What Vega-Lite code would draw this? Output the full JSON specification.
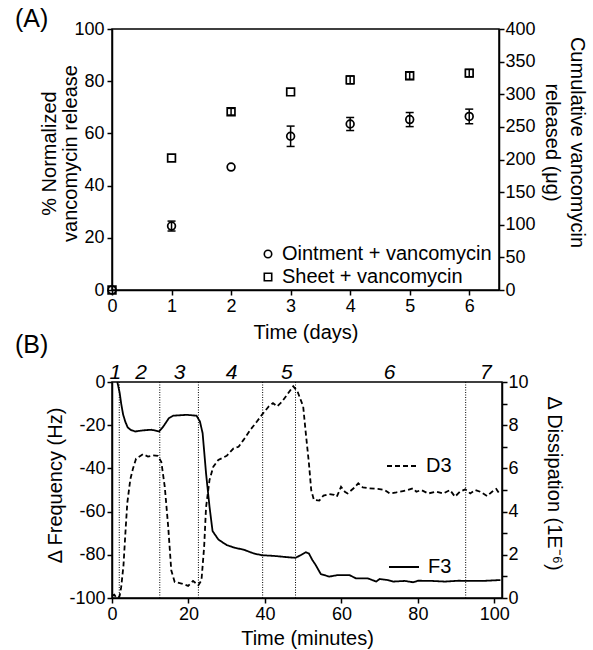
{
  "$schema": "https://vega.github.io/schema/vega-lite/v6.json",
  "padding": {"left": 14, "top": 6, "right": 0, "bottom": 0},
  "columns": 1,
  "spacing": -11,
  "config": {
    "font": "Liberation Sans",
    "view": {"stroke": "black", "strokeWidth": 1.5},
    "axis": {
      "grid": false, "domainColor": "black", "tickColor": "black", "labelColor": "black", "titleColor": "black",
      "domainWidth": 1.5, "tickWidth": 1.5, "tickSize": 5, "labelFontSize": 18, "titleFontSize": 20,
      "titleFontWeight": "normal", "labelPadding": 2, "labelFlush": false, "labelOverlap": false
    },
    "legend": {"labelFontSize": 20, "labelColor": "black", "labelLimit": 0},
    "title": {"fontSize": 25, "fontWeight": "normal", "color": "black"}
  },
  "concat": [
    {
      "width": 387,
      "height": 261,
      "title": {"text": "(A)", "anchor": "start", "frame": "group", "dx": -97, "offset": -32, "baseline": "alphabetic"},
      "data": {"values": [
        {"series": "Ointment + vancomycin", "day": 0, "pct": 0},
        {"series": "Ointment + vancomycin", "day": 1, "pct": 24.5, "lo": 22.6, "hi": 26.4},
        {"series": "Ointment + vancomycin", "day": 2, "pct": 47.1},
        {"series": "Ointment + vancomycin", "day": 3, "pct": 58.9, "lo": 55.0, "hi": 62.8},
        {"series": "Ointment + vancomycin", "day": 4, "pct": 63.6, "lo": 61.1, "hi": 66.1},
        {"series": "Ointment + vancomycin", "day": 5, "pct": 65.3, "lo": 62.6, "hi": 68.0},
        {"series": "Ointment + vancomycin", "day": 6, "pct": 66.5, "lo": 63.7, "hi": 69.3},
        {"series": "Sheet + vancomycin", "day": 0, "pct": 0},
        {"series": "Sheet + vancomycin", "day": 1, "pct": 50.6},
        {"series": "Sheet + vancomycin", "day": 2, "pct": 68.3, "lo": 67.0, "hi": 69.6},
        {"series": "Sheet + vancomycin", "day": 3, "pct": 75.9},
        {"series": "Sheet + vancomycin", "day": 4, "pct": 80.5, "lo": 79.0, "hi": 82.0},
        {"series": "Sheet + vancomycin", "day": 5, "pct": 82.1, "lo": 80.7, "hi": 83.5},
        {"series": "Sheet + vancomycin", "day": 6, "pct": 83.1, "lo": 81.7, "hi": 84.5}
      ]},
      "layer": [
        {
          "transform": [{"filter": "isValid(datum.lo)"}],
          "mark": {"type": "rule", "strokeWidth": 1.5, "color": "black"},
          "encoding": {
            "x": {"field": "day", "type": "quantitative", "scale": {"domain": [0, 6.5], "nice": false}},
            "y": {"field": "lo", "type": "quantitative", "scale": {"domain": [0, 100], "nice": false},
              "axis": {"orient": "right", "values": [0, 12.5, 25, 37.5, 50, 62.5, 75, 87.5, 100],
                "labelExpr": "'' + datum.value * 4", "title": ["Cumulative vancomycin", "released (μg)"],
                "titleAngle": 90, "titleLineHeight": 25, "titlePadding": 6, "labelPadding": 1, "titleY": 113}},
            "y2": {"field": "hi"}
          }
        },
        {
          "transform": [{"filter": "isValid(datum.lo)"}],
          "mark": {"type": "point", "shape": "M-1,0H1", "size": 64, "strokeWidth": 1.5, "color": "black", "filled": false, "opacity": 1},
          "encoding": {
            "x": {"field": "day", "type": "quantitative"},
            "y": {"field": "lo", "type": "quantitative", "axis": null}
          }
        },
        {
          "transform": [{"filter": "isValid(datum.lo)"}],
          "mark": {"type": "point", "shape": "M-1,0H1", "size": 64, "strokeWidth": 1.5, "color": "black", "filled": false, "opacity": 1},
          "encoding": {
            "x": {"field": "day", "type": "quantitative"},
            "y": {"field": "hi", "type": "quantitative", "axis": null}
          }
        },
        {
          "mark": {"type": "point", "filled": false, "strokeWidth": 1.7, "size": 60, "color": "black", "opacity": 1},
          "encoding": {
            "x": {"field": "day", "type": "quantitative",
              "axis": {"values": [0, 1, 2, 3, 4, 5, 6], "format": "d", "title": "Time (days)", "titlePadding": 7}},
            "y": {"field": "pct", "type": "quantitative",
              "axis": {"orient": "left", "values": [0, 20, 40, 60, 80, 100], "title": ["% Normalized", "vancomycin release"],
                "titleLineHeight": 21, "titlePadding": -7, "labelPadding": 3, "titleY": 124}},
            "shape": {"field": "series", "type": "nominal",
              "scale": {"domain": ["Ointment + vancomycin", "Sheet + vancomycin"], "range": ["circle", "square"]},
              "legend": {"orient": "none", "legendX": 146, "legendY": 215, "title": null, "padding": 0,
                "symbolSize": 55, "symbolStrokeWidth": 1.6, "symbolStrokeColor": "black", "symbolFillColor": "transparent",
                "labelOffset": 4, "rowPadding": 3}}
          }
        }
      ],
      "resolve": {"axis": {"y": "independent"}}
    },
    {
      "width": 390,
      "height": 216,
      "title": {"text": "(B)", "anchor": "start", "frame": "group", "dx": -97, "offset": -16, "baseline": "alphabetic"},
      "layer": [
        {
          "layer": [
            {
              "data": {"values": [{"t": 1.9}, {"t": 12.5}, {"t": 22.6}, {"t": 39.4}, {"t": 48.0}, {"t": 92.5}]},
              "mark": {"type": "rule", "strokeDash": [1, 1.5], "strokeWidth": 1, "color": "black"},
              "encoding": {
                "x": {"field": "t", "type": "quantitative", "scale": {"domain": [0, 102], "nice": false}}
              }
            },
            {
              "data": {"values": [
                {"t": 1.4, "hz": 0, "series": "F3"}, {"t": 2.0, "hz": -5, "series": "F3"}, {"t": 2.4, "hz": -10, "series": "F3"},
                {"t": 2.9, "hz": -15, "series": "F3"}, {"t": 3.5, "hz": -18.5, "series": "F3"}, {"t": 4.1, "hz": -21, "series": "F3"},
                {"t": 5.0, "hz": -22.3, "series": "F3"}, {"t": 6.1, "hz": -22.9, "series": "F3"}, {"t": 8.1, "hz": -22.4, "series": "F3"},
                {"t": 10.3, "hz": -22.1, "series": "F3"}, {"t": 12.3, "hz": -22.9, "series": "F3"}, {"t": 13.3, "hz": -20.9, "series": "F3"},
                {"t": 14.9, "hz": -16.7, "series": "F3"}, {"t": 16.0, "hz": -15.6, "series": "F3"}, {"t": 19.5, "hz": -15.2, "series": "F3"},
                {"t": 22.1, "hz": -15.6, "series": "F3"}, {"t": 23.0, "hz": -18.3, "series": "F3"}, {"t": 23.7, "hz": -23.7, "series": "F3"},
                {"t": 24.6, "hz": -42.3, "series": "F3"}, {"t": 25.5, "hz": -57.7, "series": "F3"}, {"t": 26.3, "hz": -69.0, "series": "F3"},
                {"t": 27.8, "hz": -72.9, "series": "F3"}, {"t": 30.0, "hz": -75.5, "series": "F3"}, {"t": 32.2, "hz": -76.8, "series": "F3"},
                {"t": 34.4, "hz": -77.6, "series": "F3"}, {"t": 37.1, "hz": -79.4, "series": "F3"}, {"t": 39.2, "hz": -80.2, "series": "F3"},
                {"t": 42.3, "hz": -80.5, "series": "F3"}, {"t": 45.8, "hz": -81.1, "series": "F3"}, {"t": 48.0, "hz": -81.4, "series": "F3"},
                {"t": 49.3, "hz": -80.2, "series": "F3"}, {"t": 50.7, "hz": -78.8, "series": "F3"}, {"t": 51.5, "hz": -79.4, "series": "F3"},
                {"t": 52.4, "hz": -82.4, "series": "F3"}, {"t": 53.3, "hz": -84.8, "series": "F3"}, {"t": 54.6, "hz": -88.9, "series": "F3"},
                {"t": 56.8, "hz": -90.1, "series": "F3"}, {"t": 59.0, "hz": -89.4, "series": "F3"}, {"t": 62.1, "hz": -89.4, "series": "F3"},
                {"t": 63.8, "hz": -90.9, "series": "F3"}, {"t": 66.9, "hz": -90.9, "series": "F3"}, {"t": 69.1, "hz": -92.4, "series": "F3"},
                {"t": 70.0, "hz": -91.2, "series": "F3"}, {"t": 72.2, "hz": -91.7, "series": "F3"}, {"t": 73.5, "hz": -92.4, "series": "F3"},
                {"t": 76.6, "hz": -92.1, "series": "F3"}, {"t": 78.7, "hz": -92.7, "series": "F3"}, {"t": 80.1, "hz": -92.0, "series": "F3"},
                {"t": 83.6, "hz": -92.1, "series": "F3"}, {"t": 87.1, "hz": -92.4, "series": "F3"}, {"t": 90.6, "hz": -92.0, "series": "F3"},
                {"t": 93.2, "hz": -92.1, "series": "F3"}, {"t": 96.7, "hz": -92.1, "series": "F3"}, {"t": 101.6, "hz": -91.7, "series": "F3"}
              ]},
              "mark": {"type": "line", "strokeWidth": 1.8, "color": "black"},
              "encoding": {
                "x": {"field": "t", "type": "quantitative",
                  "axis": {"values": [0, 10, 20, 30, 40, 50, 60, 70, 80, 90, 100],
                    "labelExpr": "datum.value % 20 == 0 ? '' + datum.value : ''", "title": "Time (minutes)", "titlePadding": 5}},
                "y": {"field": "hz", "type": "quantitative", "scale": {"domain": [-100, 0], "nice": false},
                  "axis": {"orient": "left", "values": [-100, -90, -80, -70, -60, -50, -40, -30, -20, -10, 0],
                    "labelExpr": "datum.value % 20 == 0 ? '' + datum.value : ''", "title": "Δ Frequency (Hz)", "titlePadding": 3, "titleY": 103}},
                "strokeDash": {"field": "series", "type": "nominal", "scale": {"domain": ["F3"], "range": [[1, 0]]},
                  "legend": {"orient": "none", "legendX": 276, "legendY": 169, "title": null, "padding": 0,
                    "symbolType": "stroke", "symbolSize": 900, "symbolStrokeWidth": 1.8, "symbolStrokeColor": "black", "labelOffset": 8}}
              }
            },
            {
              "data": {"values": [
                {"stage": "1", "t": 0.9}, {"stage": "2", "t": 7.6}, {"stage": "3", "t": 17.7}, {"stage": "4", "t": 31.3},
                {"stage": "5", "t": 45.7}, {"stage": "6", "t": 72.6}, {"stage": "7", "t": 97.8}
              ]},
              "mark": {"type": "text", "fontStyle": "italic", "fontSize": 21, "baseline": "alphabetic", "dy": -3, "color": "black"},
              "encoding": {
                "x": {"field": "t", "type": "quantitative"},
                "y": {"datum": 0, "type": "quantitative"},
                "text": {"field": "stage"}
              }
            }
          ]
        },
        {
          "data": {"values": [
            {"t": 0, "d": 0.1, "series": "D3"}, {"t": 0.6, "d": 0.15, "series": "D3"}, {"t": 1.0, "d": 0.05, "series": "D3"},
            {"t": 1.6, "d": 0.0, "series": "D3"}, {"t": 2.0, "d": 0.1, "series": "D3"}, {"t": 2.4, "d": 0.5, "series": "D3"},
            {"t": 3.0, "d": 1.5, "series": "D3"}, {"t": 3.5, "d": 3.0, "series": "D3"}, {"t": 4.0, "d": 4.4, "series": "D3"},
            {"t": 4.8, "d": 5.5, "series": "D3"}, {"t": 5.5, "d": 6.0, "series": "D3"}, {"t": 6.3, "d": 6.45, "series": "D3"},
            {"t": 7.6, "d": 6.6, "series": "D3"}, {"t": 8.1, "d": 6.66, "series": "D3"}, {"t": 9.4, "d": 6.55, "series": "D3"},
            {"t": 10.7, "d": 6.6, "series": "D3"}, {"t": 12.0, "d": 6.58, "series": "D3"}, {"t": 12.9, "d": 6.3, "series": "D3"},
            {"t": 13.8, "d": 5.15, "series": "D3"}, {"t": 14.7, "d": 3.3, "series": "D3"}, {"t": 15.5, "d": 1.28, "series": "D3"},
            {"t": 16.4, "d": 0.74, "series": "D3"}, {"t": 18.2, "d": 0.67, "series": "D3"}, {"t": 19.9, "d": 0.56, "series": "D3"},
            {"t": 21.2, "d": 0.79, "series": "D3"}, {"t": 22.6, "d": 0.59, "series": "D3"}, {"t": 23.4, "d": 0.82, "series": "D3"},
            {"t": 24.1, "d": 2.37, "series": "D3"}, {"t": 24.6, "d": 4.2, "series": "D3"}, {"t": 25.5, "d": 5.46, "series": "D3"},
            {"t": 26.5, "d": 6.08, "series": "D3"}, {"t": 27.8, "d": 6.39, "series": "D3"}, {"t": 30.0, "d": 6.58, "series": "D3"},
            {"t": 31.8, "d": 6.93, "series": "D3"}, {"t": 33.1, "d": 7.0, "series": "D3"}, {"t": 34.4, "d": 7.32, "series": "D3"},
            {"t": 36.2, "d": 7.79, "series": "D3"}, {"t": 37.9, "d": 8.17, "series": "D3"}, {"t": 39.2, "d": 8.48, "series": "D3"},
            {"t": 41.0, "d": 8.87, "series": "D3"}, {"t": 42.1, "d": 9.02, "series": "D3"}, {"t": 43.2, "d": 8.87, "series": "D3"},
            {"t": 44.5, "d": 9.1, "series": "D3"}, {"t": 45.8, "d": 9.41, "series": "D3"}, {"t": 47.4, "d": 9.8, "series": "D3"},
            {"t": 48.5, "d": 9.57, "series": "D3"}, {"t": 50.0, "d": 8.87, "series": "D3"}, {"t": 50.6, "d": 7.78, "series": "D3"},
            {"t": 51.5, "d": 6.24, "series": "D3"}, {"t": 52.1, "d": 5.0, "series": "D3"}, {"t": 52.8, "d": 4.54, "series": "D3"},
            {"t": 54.2, "d": 4.51, "series": "D3"}, {"t": 55.3, "d": 4.74, "series": "D3"}, {"t": 56.8, "d": 4.81, "series": "D3"},
            {"t": 58.1, "d": 4.77, "series": "D3"}, {"t": 58.8, "d": 4.69, "series": "D3"}, {"t": 59.9, "d": 5.15, "series": "D3"},
            {"t": 60.9, "d": 4.92, "series": "D3"}, {"t": 61.6, "d": 4.84, "series": "D3"}, {"t": 63.2, "d": 5.08, "series": "D3"},
            {"t": 64.4, "d": 5.31, "series": "D3"}, {"t": 65.6, "d": 5.12, "series": "D3"}, {"t": 67.3, "d": 5.08, "series": "D3"},
            {"t": 69.5, "d": 5.05, "series": "D3"}, {"t": 71.3, "d": 5.0, "series": "D3"}, {"t": 72.6, "d": 4.84, "series": "D3"},
            {"t": 74.4, "d": 4.89, "series": "D3"}, {"t": 76.1, "d": 4.95, "series": "D3"}, {"t": 77.4, "d": 5.0, "series": "D3"},
            {"t": 78.7, "d": 5.08, "series": "D3"}, {"t": 79.6, "d": 4.92, "series": "D3"}, {"t": 80.9, "d": 5.0, "series": "D3"},
            {"t": 82.7, "d": 4.84, "series": "D3"}, {"t": 84.9, "d": 4.92, "series": "D3"}, {"t": 86.6, "d": 4.84, "series": "D3"},
            {"t": 88.4, "d": 5.0, "series": "D3"}, {"t": 89.7, "d": 4.69, "series": "D3"}, {"t": 91.0, "d": 4.92, "series": "D3"},
            {"t": 92.4, "d": 5.03, "series": "D3"}, {"t": 93.7, "d": 4.84, "series": "D3"}, {"t": 95.0, "d": 5.0, "series": "D3"},
            {"t": 96.3, "d": 4.92, "series": "D3"}, {"t": 98.1, "d": 4.72, "series": "D3"}, {"t": 99.4, "d": 4.92, "series": "D3"},
            {"t": 100.5, "d": 5.05, "series": "D3"}, {"t": 101.3, "d": 4.84, "series": "D3"}
          ]},
          "mark": {"type": "line", "strokeWidth": 1.8, "color": "black"},
          "encoding": {
            "x": {"field": "t", "type": "quantitative"},
            "y": {"field": "d", "type": "quantitative", "scale": {"domain": [0, 10], "nice": false},
              "axis": {"orient": "right", "values": [0, 1, 2, 3, 4, 5, 6, 7, 8, 9, 10],
                "labelExpr": "datum.value % 2 == 0 ? '' + datum.value : ''", "title": "Δ Dissipation (1E⁻⁶)",
                "titleAngle": 90, "titlePadding": 15, "labelPadding": 1, "titleY": 101}},
            "strokeDash": {"field": "series", "type": "nominal", "scale": {"domain": ["D3"], "range": [[5, 3]]},
              "legend": {"orient": "none", "legendX": 274, "legendY": 68, "title": null, "padding": 0,
                "symbolType": "stroke", "symbolSize": 900, "symbolStrokeWidth": 1.8, "symbolStrokeColor": "black", "labelOffset": 8}}
          }
        }
      ],
      "resolve": {"scale": {"y": "independent", "strokeDash": "independent"}, "legend": {"strokeDash": "independent"}, "axis": {"y": "independent"}}
    }
  ]
}
